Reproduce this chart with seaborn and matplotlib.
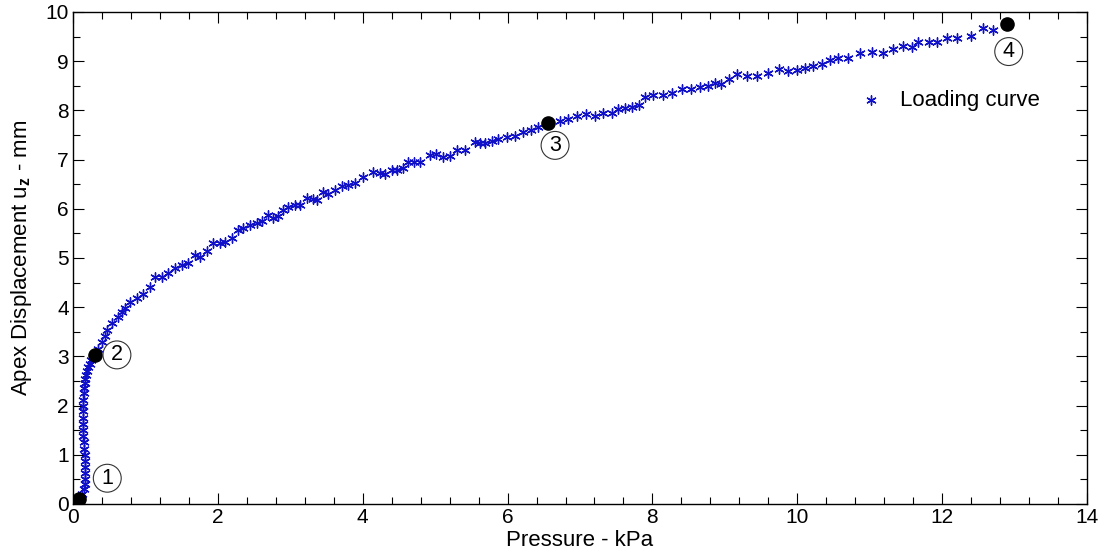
import numpy as np
import pandas as pd
import seaborn as sns
import matplotlib.pyplot as plt
from matplotlib.ticker import MultipleLocator

# loading curve (pressure in kPa, apex displacement in mm)
pressure = [0.10, 0.13, 0.15, 0.16, 0.17, 0.17, 0.17, 0.16, 0.16, 0.15, 0.15, 0.14, 0.14, 0.14,
            0.14, 0.14, 0.14, 0.14, 0.15, 0.15, 0.16, 0.17, 0.18, 0.19, 0.21, 0.23, 0.25, 0.27,
            0.30, 0.34, 0.40, 0.44, 0.47, 0.54, 0.62, 0.68, 0.72, 0.79, 0.88, 0.97, 1.06, 1.13,
            1.23, 1.31, 1.41, 1.50, 1.59, 1.68, 1.75, 1.85, 1.93, 2.03, 2.10, 2.20, 2.28, 2.35,
            2.44, 2.54, 2.61, 2.69, 2.76, 2.83, 2.90, 2.97, 3.07, 3.13, 3.23, 3.31, 3.37, 3.45,
            3.52, 3.62, 3.71, 3.80, 3.89, 4.00, 4.14, 4.24, 4.31, 4.40, 4.47, 4.56, 4.63, 4.71,
            4.79, 4.93, 5.01, 5.11, 5.20, 5.30, 5.41, 5.55, 5.62, 5.69, 5.78, 5.87, 5.99, 6.10,
            6.21, 6.32, 6.42, 6.56, 6.72, 6.83, 6.96, 7.08, 7.21, 7.32, 7.44, 7.52, 7.62, 7.72,
            7.81, 7.90, 8.01, 8.15, 8.27, 8.41, 8.53, 8.66, 8.77, 8.86, 8.95, 9.06, 9.17, 9.31,
            9.44, 9.60, 9.75, 9.87, 10.00, 10.11, 10.22, 10.34, 10.45, 10.56, 10.70, 10.87, 11.03,
            11.18, 11.32, 11.46, 11.58, 11.67, 11.82, 11.93, 12.07, 12.20, 12.40, 12.56, 12.70,
            12.90]
displacement = [0.12, 0.20, 0.30, 0.40, 0.50, 0.62, 0.75, 0.88, 1.00, 1.12, 1.25, 1.38, 1.50, 1.62,
                1.75, 1.88, 2.00, 2.12, 2.25, 2.35, 2.45, 2.55, 2.62, 2.70, 2.78, 2.85, 2.92, 2.98,
                3.03, 3.15, 3.29, 3.42, 3.54, 3.68, 3.80, 3.90, 3.98, 4.11, 4.19, 4.27, 4.41, 4.61,
                4.61, 4.69, 4.80, 4.86, 4.90, 5.06, 5.02, 5.14, 5.30, 5.30, 5.33, 5.41, 5.57, 5.61,
                5.67, 5.71, 5.75, 5.87, 5.81, 5.85, 5.98, 6.04, 6.08, 6.08, 6.22, 6.20, 6.18, 6.34,
                6.30, 6.38, 6.46, 6.48, 6.52, 6.65, 6.75, 6.73, 6.71, 6.79, 6.79, 6.83, 6.95, 6.95,
                6.95, 7.09, 7.11, 7.05, 7.07, 7.20, 7.20, 7.36, 7.34, 7.34, 7.38, 7.42, 7.46, 7.48,
                7.56, 7.60, 7.66, 7.74, 7.78, 7.83, 7.89, 7.93, 7.89, 7.95, 7.95, 8.03, 8.05, 8.07,
                8.11, 8.27, 8.31, 8.31, 8.35, 8.43, 8.43, 8.48, 8.50, 8.56, 8.54, 8.64, 8.74, 8.70,
                8.70, 8.76, 8.84, 8.80, 8.82, 8.86, 8.90, 8.94, 9.02, 9.07, 9.07, 9.17, 9.19,
                9.17, 9.25, 9.31, 9.29, 9.39, 9.39, 9.39, 9.47, 9.47, 9.51, 9.67, 9.63,
                9.76]

# marked states on the curve
state_p = [0.09, 0.30, 6.56, 12.90]
state_u = [0.10, 3.03, 7.74, 9.76]
state_labels = ['1', '2', '3', '4']

df = pd.DataFrame({'Pressure': pressure, 'Displacement': displacement})

sns.set_style('ticks')
plt.rcParams['font.family'] = ['Liberation Sans', 'DejaVu Sans']
plt.rcParams['mathtext.fontset'] = 'custom'
plt.rcParams['mathtext.rm'] = 'Liberation Sans'
plt.rcParams['mathtext.bf'] = 'Liberation Sans:bold'
plt.rcParams['text.color'] = 'black'
plt.rcParams['axes.labelcolor'] = 'black'
plt.rcParams['xtick.color'] = 'black'
plt.rcParams['ytick.color'] = 'black'

fig = plt.figure(figsize=(11.04, 5.57), dpi=100)
ax = fig.add_axes([0.0661, 0.0952, 0.9185, 0.8833])

sns.scatterplot(data=df, x='Pressure', y='Displacement', ax=ax, marker=(6, 2, 0),
                color='#1010c8', s=45, linewidth=1.0, label='Loading curve', zorder=3)
ax.plot(state_p, state_u, 'o', color='black', ms=9.5, zorder=4)

offsets = [(20, 15), (16, 0), (5, -16), (1, -20)]
for xp, yp, lab, off in zip(state_p, state_u, state_labels, offsets):
    ax.annotate(lab, (xp, yp), xytext=off, textcoords='offset points',
                ha='center', va='center', fontsize=15.5, zorder=5,
                bbox=dict(boxstyle='circle,pad=0.16', fc='white', ec='#333333', lw=0.8))

ax.set_xlim(0, 14)
ax.set_ylim(0, 10)
ax.xaxis.set_major_locator(MultipleLocator(2))
ax.xaxis.set_minor_locator(MultipleLocator(0.4))
ax.yaxis.set_major_locator(MultipleLocator(1))
ax.yaxis.set_minor_locator(MultipleLocator(0.5))
ax.tick_params(which='both', direction='in', top=True, right=True, labelsize=15, pad=3)
ax.tick_params(which='major', length=8, width=0.8)
ax.tick_params(which='minor', length=5, width=0.8)
for sp in ax.spines.values():
    sp.set_color('black')
    sp.set_linewidth(1.0)

ax.set_xlabel('Pressure - kPa', fontsize=16, labelpad=2)
ax.set_ylabel(r'Apex Displacement u$_{\mathbf{z}}$ - mm', fontsize=16, labelpad=8)

ax.legend(loc='center left', bbox_to_anchor=(0.745, 0.82), frameon=False, fontsize=16,
          handletextpad=0.3, markerscale=1.0)

fig.savefig('out.png', dpi=100)
